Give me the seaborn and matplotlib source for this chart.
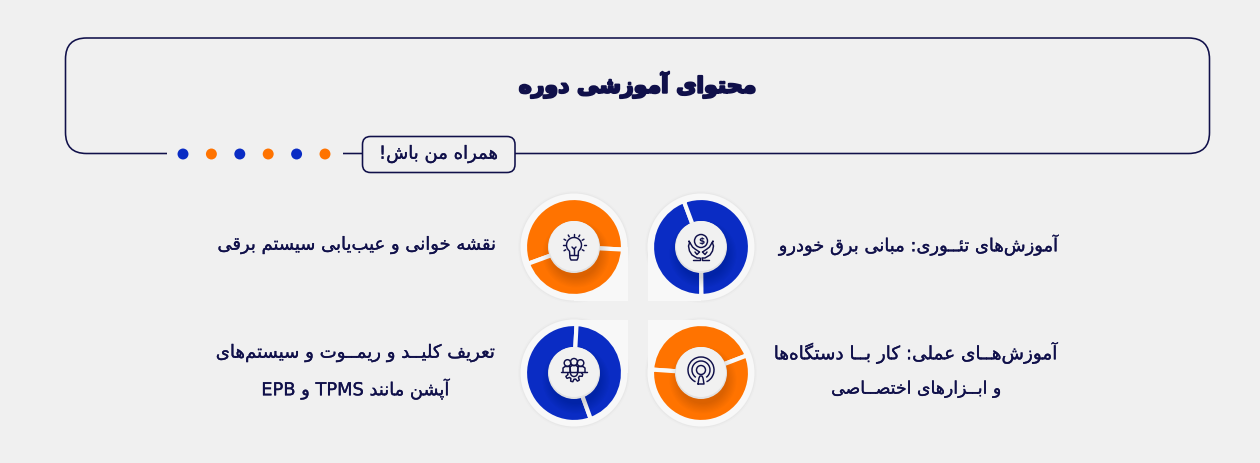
import re
import matplotlib
matplotlib.use("Agg")
import matplotlib.pyplot as plt
import matplotlib.patheffects as pe
from matplotlib.patches import Circle, Rectangle, FancyBboxPatch, Arc
import numpy as np
import seaborn as sns

# ---------- data ----------
title_text = "محتوای آموزشی دوره"
badge_text = "همراه من باش!"
topic_1 = ["آموزش\u200cهای تئــوری: مبانی برق خودرو"]
topic_2 = ["نقشه خوانی و عیب\u200cیابی سیستم برقی"]
topic_3 = ["آموزش\u200cهــای عملی: کار بــا دستگاه\u200cها", "و ابــزارهای اختصــاصی"]
topic_4 = ["تعریف کلیــد و ریمــوت و سیستم\u200cهای", "آپشن مانند TPMS و EPB"]
donut_1_values = [160, 200]
donut_2_values = [203, 157]
donut_3_values = [203, 157]
donut_4_values = [155, 205]
dot_kinds = ["blue", "orange", "blue", "orange", "blue", "orange"]

BG, CARD, NAVY = "#f0f0f0", "#f8f8f8", "#10104a"
BLUE, ORANGE = "#0a2cc4", "#ff7300"
W, H = 1260, 464

# ---------- minimal Persian shaping (matplotlib draws glyphs left to right) ----------
F = {
 'ا':(0xFE8D,0xFE8E),'آ':(0xFE81,0xFE82),'د':(0xFEA9,0xFEAA),'ذ':(0xFEAB,0xFEAC),'ر':(0xFEAD,0xFEAE),
 'ز':(0xFEAF,0xFEB0),'ژ':(0xFB8A,0xFB8B),'و':(0xFEED,0xFEEE),
 'ب':(0xFE8F,0xFE90,0xFE91,0xFE92),'پ':(0xFB56,0xFB57,0xFB58,0xFB59),'ت':(0xFE95,0xFE96,0xFE97,0xFE98),
 'ث':(0xFE99,0xFE9A,0xFE9B,0xFE9C),'ج':(0xFE9D,0xFE9E,0xFE9F,0xFEA0),'چ':(0xFB7A,0xFB7B,0xFB7C,0xFB7D),
 'ح':(0xFEA1,0xFEA2,0xFEA3,0xFEA4),'خ':(0xFEA5,0xFEA6,0xFEA7,0xFEA8),'س':(0xFEB1,0xFEB2,0xFEB3,0xFEB4),
 'ش':(0xFEB5,0xFEB6,0xFEB7,0xFEB8),'ص':(0xFEB9,0xFEBA,0xFEBB,0xFEBC),'ض':(0xFEBD,0xFEBE,0xFEBF,0xFEC0),
 'ط':(0xFEC1,0xFEC2,0xFEC3,0xFEC4),'ظ':(0xFEC5,0xFEC6,0xFEC7,0xFEC8),'ع':(0xFEC9,0xFECA,0xFECB,0xFECC),
 'غ':(0xFECD,0xFECE,0xFECF,0xFED0),'ف':(0xFED1,0xFED2,0xFED3,0xFED4),'ق':(0xFED5,0xFED6,0xFED7,0xFED8),
 'ک':(0xFB8E,0xFB8F,0xFB90,0xFB91),'گ':(0xFB92,0xFB93,0xFB94,0xFB95),'ل':(0xFEDD,0xFEDE,0xFEDF,0xFEE0),
 'م':(0xFEE1,0xFEE2,0xFEE3,0xFEE4),'ن':(0xFEE5,0xFEE6,0xFEE7,0xFEE8),'ه':(0xFEE9,0xFEEA,0xFEEB,0xFEEC),
 'ی':(0xFBFC,0xFBFD,0xFBFE,0xFBFF),'ئ':(0xFE89,0xFE8A,0xFE8B,0xFE8C),
}
KASH = '\u0640'
def joins_next(c): return c == KASH or (c in F and len(F[c]) == 4)
def joins_prev(c): return c == KASH or c in F
def shape(s):
    out = []
    for i, c in enumerate(s):
        if c == '\u200c':
            continue
        if c not in F:
            out.append(c); continue
        p = s[i-1] if i else ''
        n = s[i+1] if i+1 < len(s) else ''
        a = joins_next(p)
        b = joins_next(c) and joins_prev(n)
        f = F[c]
        if a and b: g = f[3]
        elif a: g = f[1]
        elif b: g = f[2]
        else: g = f[0]
        out.append(chr(g))
    return ''.join(out)
def visual(s):
    parts = re.split(r'([A-Za-z]+)', shape(s))
    return ''.join(p if re.fullmatch(r'[A-Za-z]+', p) else p[::-1] for p in reversed(parts))

# ---------- figure ----------
sns.set_theme(style="white", rc={"figure.facecolor": BG, "axes.facecolor": BG})
plt.rcParams['font.family'] = ['DejaVu Sans']
fig = plt.figure(figsize=(W/100, H/100), dpi=100, facecolor=BG)
ax = fig.add_axes([0, 0, 1, 1])
Y = lambda y: H - y - 1
renderer = fig.canvas.get_renderer()

def fit_text(s, cx, cy, width, weight="normal", stroke=0.2):
    t = ax.text(cx, Y(cy), visual(s), ha="center", va="center", color=NAVY, fontsize=14, fontweight=weight, zorder=6)
    w = t.get_window_extent(renderer).width
    t.set_fontsize(14 * width / w)
    t.set_path_effects([pe.withStroke(linewidth=stroke, foreground=NAVY)])
    return t

ax.set_xlim(0, W); ax.set_ylim(0, H)

# frame, broken line and badge
ax.add_patch(FancyBboxPatch((65.5, Y(153.5)), 1144, 115.5, boxstyle="round,pad=0,rounding_size=21",
                            fc="none", ec=NAVY, lw=1.15, zorder=2))
ax.add_patch(Rectangle((167, Y(158)), 176, 8, fc=BG, ec="none", zorder=2.1))
ax.add_patch(FancyBboxPatch((362.5, Y(172.5)), 152.5, 36, boxstyle="round,pad=0,rounding_size=8",
                            fc=BG, ec=NAVY, lw=1.15, zorder=3))
fit_text(title_text, 637.5, 85, 239, weight="bold", stroke=1.5)
fit_text(badge_text, 438.5, 154, 120)

dot_x = 183 + 28.4 * np.arange(len(dot_kinds))
sns.scatterplot(x=dot_x, y=[Y(154)] * len(dot_kinds), hue=dot_kinds, palette={"blue": BLUE, "orange": ORANGE},
                s=62, linewidth=0, legend=False, ax=ax, zorder=4)

# ---------- donut cards ----------
def card(cx, cy, corner):
    R = 53.5
    sx, sy = corner
    for k, a in ((2.5, .012), (1.2, .018)):
        ax.add_patch(Circle((cx, Y(cy)), R + k, fc="black", alpha=a, ec="none", zorder=.4))
    ax.add_patch(Circle((cx, Y(cy)), R, fc=CARD, ec="none", zorder=.5))
    x0 = min(cx, cx + sx * R); y0 = min(Y(cy), Y(cy) - sy * R)
    ax.add_patch(Rectangle((x0, y0), R, R, fc=CARD, ec="none", zorder=.5))

def donut(cx, cy, vals, start, col):
    ax.pie(vals, colors=[col, col], startangle=start, counterclock=True, radius=49,
           center=(cx, Y(cy)), frame=True,
           wedgeprops=dict(width=28, edgecolor=CARD, linewidth=3.0))
    for k in range(9):
        ax.add_patch(Circle((cx + 2, Y(cy + 7)), 24 + k * 1.2, fc="black", alpha=.014, ec="none", zorder=2))
    ax.add_patch(Circle((cx, Y(cy)), 26, fc="#e2e2e2", ec="none", zorder=3))
    ax.add_patch(Circle((cx, Y(cy - 1)), 25, fc="#f1f1f1", ec="none", zorder=3.1))

ICON = dict(color=NAVY, lw=1.05, zorder=5, solid_capstyle="round")
def pl(cx, cy, xs, ys):
    ax.plot(np.array(xs) + cx, Y(np.array(ys) + cy), **ICON)
def ring(cx, cy, dx, dy, r):
    ax.add_patch(Circle((cx + dx, Y(cy + dy)), r, fc="none", ec=NAVY, lw=1.05, zorder=5))

def icon_bulb(cx, cy):
    ax.add_patch(Arc((cx, Y(cy - 2)), 15, 15, theta1=-50, theta2=230, ec=NAVY, lw=1.05, zorder=5))
    pl(cx, cy, [-4.5, -4, -3, 3, 4, 4.5], [4, 11, 13, 13, 11, 4])
    pl(cx, cy, [-4, 4], [8, 8])
    pl(cx, cy, [-2, 0, 2], [0, 2, 0]); pl(cx, cy, [0, 0], [2, 7])
    for a in np.deg2rad(np.arange(-30, 211, 30)):
        pl(cx, cy, [9.5 * np.cos(a), 11.5 * np.cos(a)], [-2 - 9.5 * np.sin(a), -2 - 11.5 * np.sin(a)])

def icon_hands(cx, cy):
    ring(cx, cy, 0, -6, 6.5)
    ax.text(cx, Y(cy - 6), "\\$", ha="center", va="center", fontsize=6.5, color=NAVY, zorder=5, fontweight="bold")
    for s in (-1, 1):
        pl(cx, cy, s * np.array([1, 4, 9, 11.5, 12.5, 11.5, 12, 8.5, 6, 1.5]),
           [11, 11, 8, 4, -1, -4, -6, 0, 2, 5])
        pl(cx, cy, s * np.array([1.5, 4, 6]), [5, 7.5, 5])
        pl(cx, cy, s * np.array([1, 1, 8]), [11, 13, 13])

def icon_people(cx, cy):
    for dx, dy, r in ((-6.5, -10, 3.3), (6.5, -10, 3.3), (0, -11, 3.5)):
        ring(cx, cy, dx, dy, r)
    pl(cx, cy, [-11, -11, -9, -4, -3.5], [-1, -5, -6.5, -6.5, -1])
    pl(cx, cy, [11, 11, 9, 4, 3.5], [-1, -5, -6.5, -6.5, -1])
    pl(cx, cy, [-4, -4, -2, 2, 4, 4], [-1, -6, -7.5, -7.5, -6, -1])
    pl(cx, cy, [-13, 13], [-1, -1])
    a = np.linspace(0, np.pi, 25)
    r = 7.5 + 1.3 * np.sign(np.sin(8 * a))
    pl(cx, cy, r * np.cos(a), r * np.sin(a))
    ax.add_patch(Arc((cx, Y(cy)), 7, 7, theta1=180, theta2=360, ec=NAVY, lw=1.05, zorder=5))

def icon_antenna(cx, cy):
    ax.add_patch(Arc((cx, Y(cy - 3)), 26, 26, theta1=-65, theta2=245, ec=NAVY, lw=1.05, zorder=5))
    ax.add_patch(Arc((cx, Y(cy - 3)), 18, 18, theta1=-55, theta2=235, ec=NAVY, lw=1.05, zorder=5))
    ring(cx, cy, 0, -3, 4.5)
    pl(cx, cy, [-3, -2, -1, 1, 2, 3, -3], [11, 5, 3, 3, 5, 11, 11])

cards = [
    (701, 247, (-1, 1), donut_1_values, 110.5, BLUE, icon_hands, topic_1),
    (574, 247, (1, 1), donut_2_values, -3, ORANGE, icon_bulb, topic_2),
    (574, 373, (1, -1), donut_3_values, 87, BLUE, icon_people, topic_4),
    (701, 373, (-1, -1), donut_4_values, 21, ORANGE, icon_antenna, topic_3),
]
for cx, cy, corner, vals, start, col, icon, _ in cards:
    card(cx, cy, corner)
    donut(cx, cy, vals, start, col)
    icon(cx, cy)

# ---------- topic text ----------
fit_text(topic_1[0], 918.5, 245, 281)
fit_text(topic_2[0], 356.5, 245, 281)
fit_text(topic_3[0], 916, 353, 286)
fit_text(topic_3[1], 916, 389, 172)
fit_text(topic_4[0], 356, 353, 282)
fit_text(topic_4[1], 355.5, 389, 189)

ax.set_xlim(0, W); ax.set_ylim(0, H)
ax.set_aspect("auto")
ax.set_axis_off()
sns.despine(ax=ax, left=True, bottom=True)
fig.savefig("out.png", dpi=100, facecolor=BG)
